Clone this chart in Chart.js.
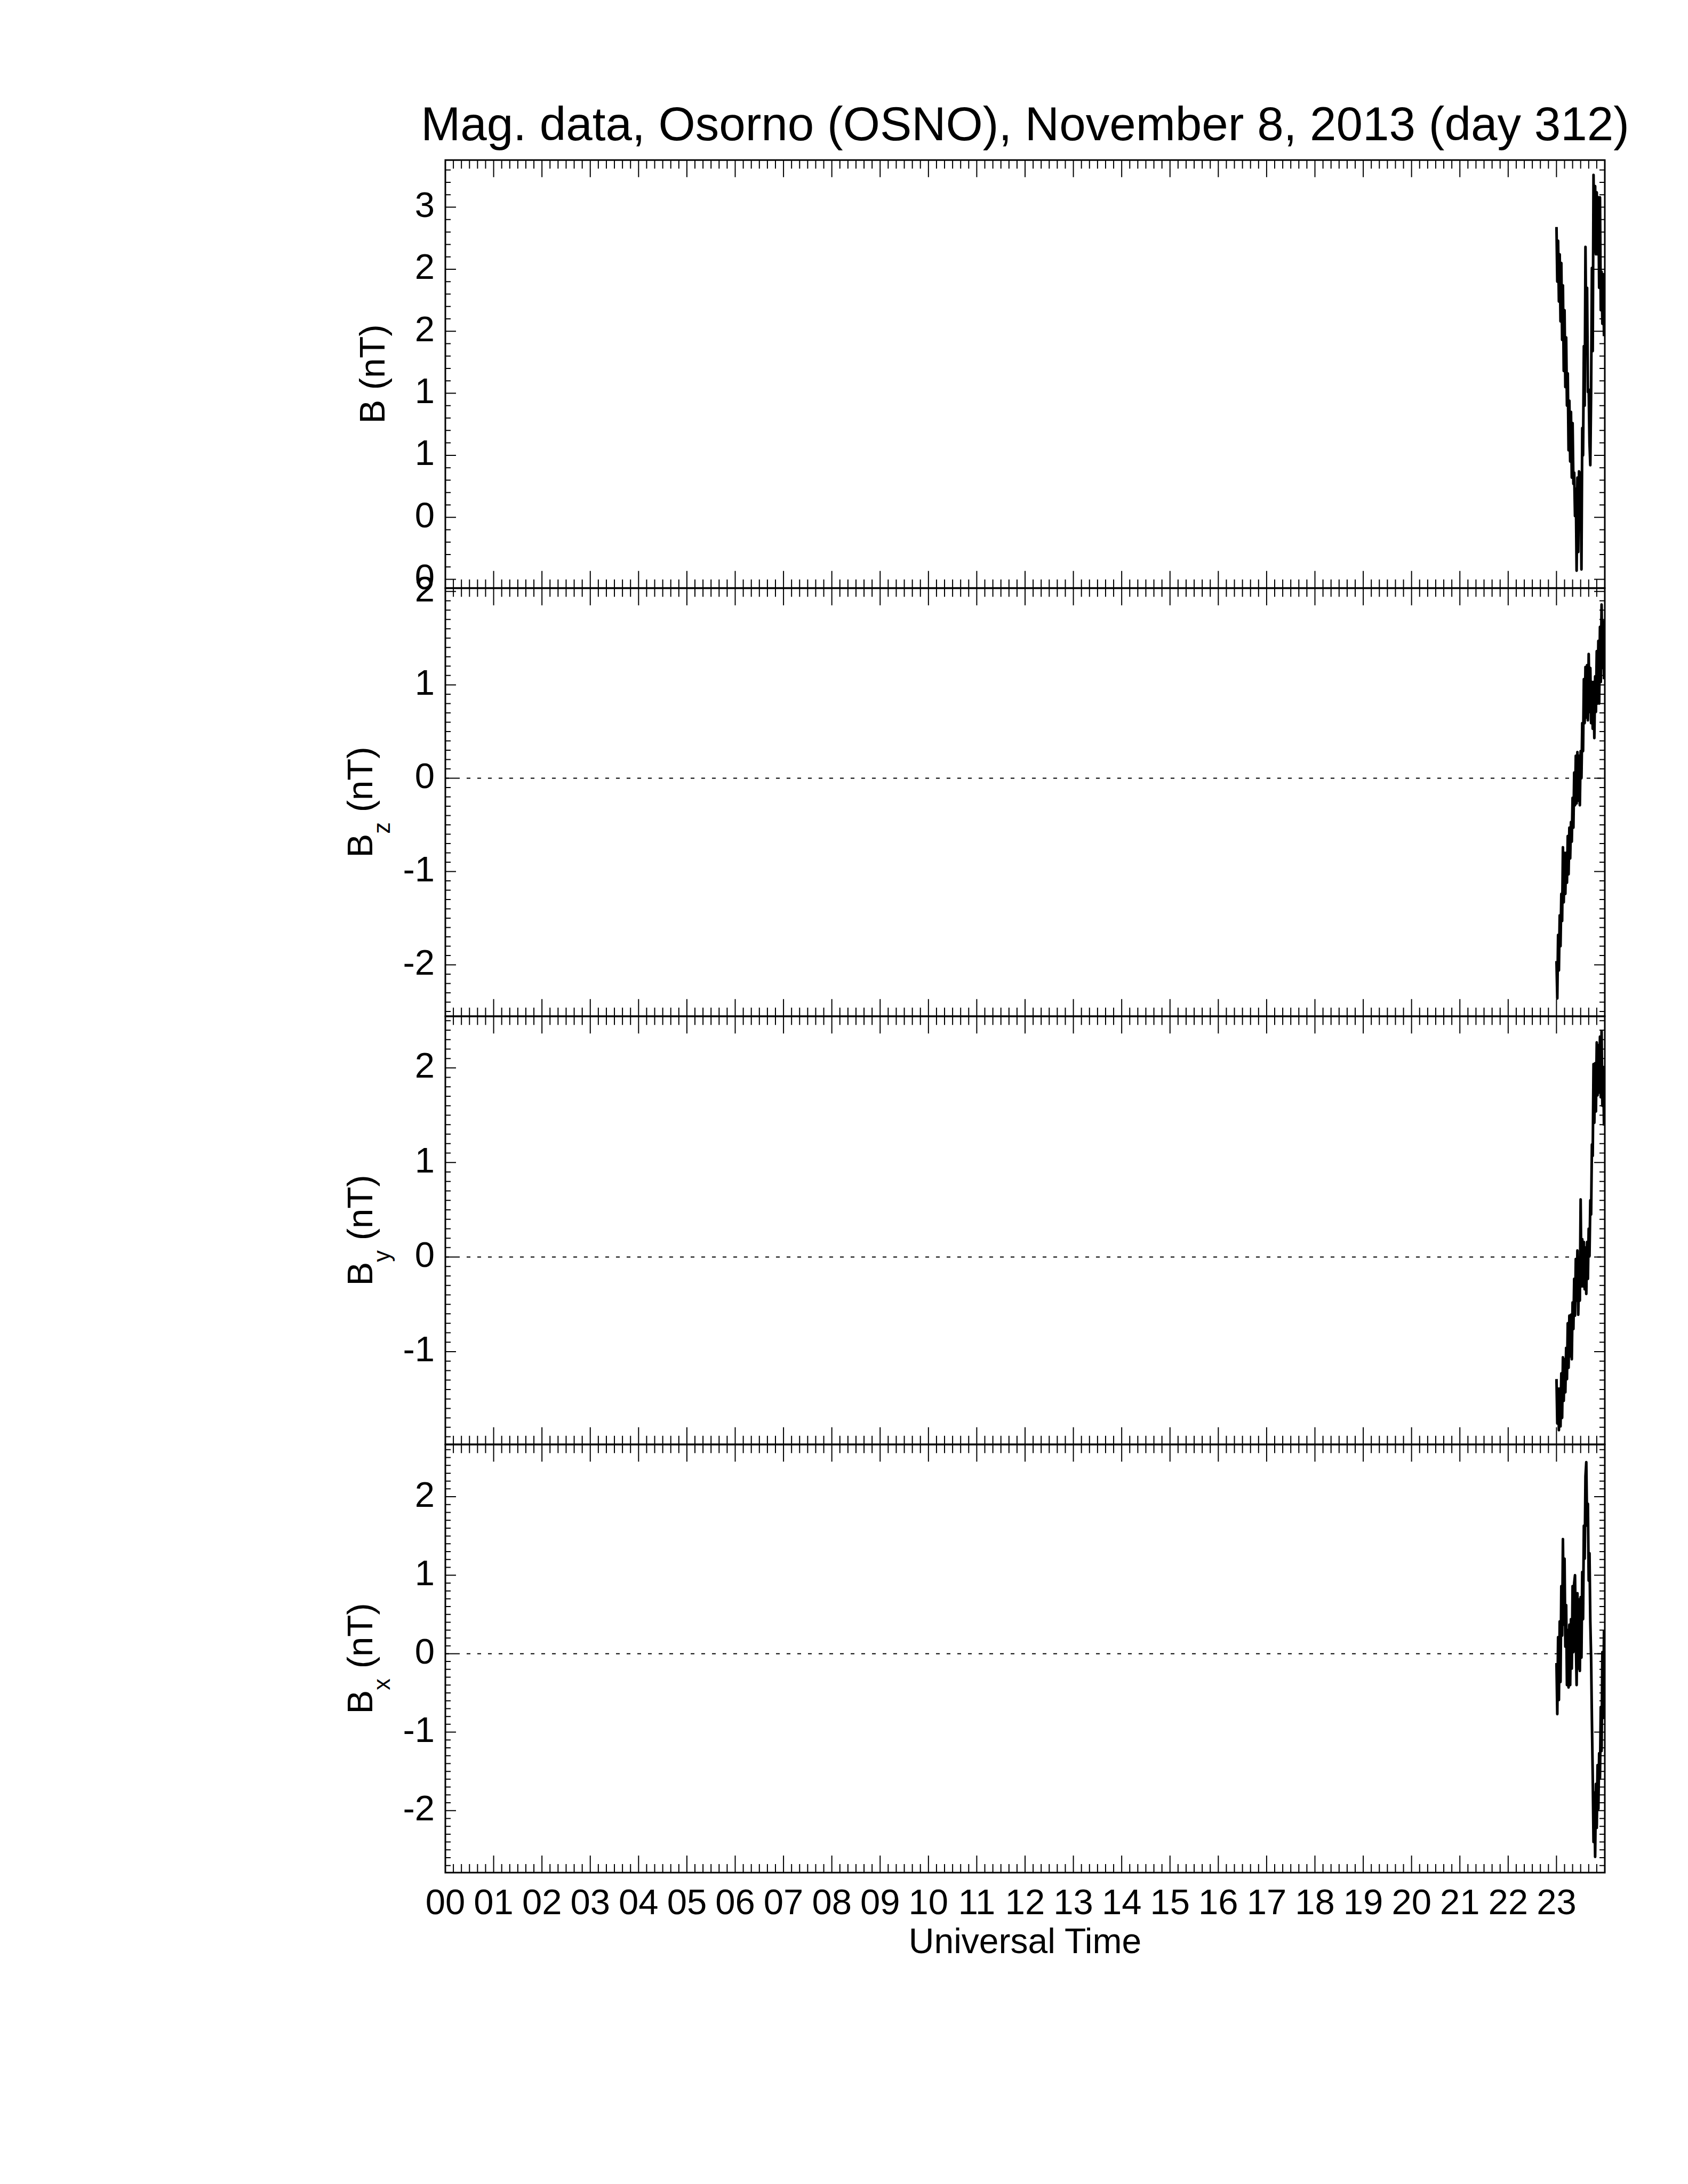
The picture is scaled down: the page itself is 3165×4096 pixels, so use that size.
<!DOCTYPE html>
<html>
<head>
<meta charset="utf-8">
<title>Mag. data, Osorno (OSNO), November 8, 2013</title>
<script src="https://cdn.jsdelivr.net/npm/chart.js@4.4.1/dist/chart.umd.min.js"></script>
<style>
    html, body { margin: 0; padding: 0; background: #fff; }
    body {
        width: 3165px; height: 4096px; position: relative; overflow: hidden;
        font-family: 'Liberation Sans', Arial, Helvetica, sans-serif; color: #000;
    }
    canvas { position: absolute; left: 0; }
    .label { position: absolute; white-space: nowrap; line-height: 1; text-align: center; }
    .ytitle sub { font-size: 0.65em; vertical-align: -33px; line-height: 0; }
</style>
</head>
<body>
<div class="label" id="mainTitle">Mag. data, Osorno (OSNO), November 8, 2013 (day 312)</div>
<div class="label ytitle" id="title0">B (nT)</div>
<div class="label ytitle" id="title1">B<sub>z</sub> (nT)</div>
<div class="label ytitle" id="title2">B<sub>y</sub> (nT)</div>
<div class="label ytitle" id="title3">B<sub>x</sub> (nT)</div>
<div class="label" id="xTitle">Universal Time</div>
<canvas id="panel0"></canvas>
<canvas id="panel1"></canvas>
<canvas id="panel2"></canvas>
<canvas id="panel3"></canvas>
<script>
// one sample per minute, starting 23:00 UT
const sampleStart = 23;
const sampleStep = 1 / 60;

const hourTicks = [0, 1, 2, 3, 4, 5, 6, 7, 8, 9, 10, 11, 12, 13, 14, 15, 16, 17, 18, 19, 20, 21, 22, 23, 24];
const hourLabels = ['00', '01', '02', '03', '04', '05', '06', '07', '08', '09', '10', '11',
                    '12', '13', '14', '15', '16', '17', '18', '19', '20', '21', '22', '23', ''];

const bTotal = [2.84, 2.40, 2.73, 2.24, 2.62, 2.08, 2.55, 1.93, 2.37, 1.68,
                2.17, 1.55, 1.95, 1.40, 1.66, 1.04, 1.44, 0.95, 1.35, 0.82,
                1.26, 0.77, 0.86, 0.51, 0.73, 0.07, 0.82, 0.22, 0.87, 0.51,
                0.86, 0.08, 1.22, 1.00, 1.88, 1.40, 2.68, 1.93, 2.35, 1.51,
                1.53, 1.10, 0.92, 1.51, 2.51, 1.84, 3.26, 2.64, 3.17, 2.62,
                3.12, 2.62, 3.08, 2.35, 3.08, 2.17, 2.48, 2.06, 2.46, 1.96];
const bz = [-1.96, -2.36, -1.68, -2.06, -1.47, -1.80, -1.24, -1.53, -0.74, -1.33,
            -0.80, -1.24, -0.80, -1.12, -0.62, -1.03, -0.53, -0.86, -0.47, -0.68,
            -0.21, -0.53, 0.06, -0.29, 0.24, -0.27, 0.28, -0.24, 0.24, -0.29,
            0.29, 0.00, 0.59, 0.29, 1.06, 0.59, 1.19, 0.65, 1.21, 0.62,
            1.33, 0.71, 1.18, 0.59, 1.03, 0.53, 1.03, 0.43, 1.09, 0.71,
            1.36, 0.80, 1.47, 0.80, 1.62, 1.03, 1.86, 1.18, 1.68, 1.06];
const by = [-1.29, -1.76, -1.39, -1.83, -1.39, -1.79, -1.23, -1.70, -1.06, -1.52,
            -1.08, -1.43, -0.96, -1.29, -0.70, -1.17, -0.62, -1.05, -0.61, -1.08,
            -0.48, -0.76, -0.23, -0.62, -0.02, -0.46, 0.07, -0.61, -0.20, -0.46,
            0.61, -0.31, 0.19, -0.31, 0.16, -0.34, 0.10, -0.39, 0.16, -0.23,
            0.30, 0.01, 0.60, 0.45, 1.19, 1.07, 2.04, 1.42, 2.05, 1.54,
            2.27, 1.71, 2.24, 1.74, 2.33, 1.69, 2.39, 1.60, 2.01, 1.39];
const bx = [-0.12, -0.77, 0.21, -0.59, 0.41, -0.36, 0.86, 0.23, 1.46, 0.37,
            1.21, 0.09, 0.62, -0.40, 0.30, -0.43, 0.37, -0.40, 0.44, -0.19,
            0.86, 0.02, 0.90, 1.00, 0.23, -0.40, 0.77, -0.19, 0.69, -0.22,
            0.72, -0.05, 1.04, 0.44, 1.63, 1.21, 2.26, 2.44, 1.63, 1.91,
            0.93, 1.28, 0.41, -0.05, -0.85, -1.55, -2.40, -1.77, -2.59, -1.66,
            -2.22, -1.42, -1.98, -1.27, -1.59, -0.68, -1.24, 0.02, -0.82, 0.30];

const bTicks = [0, 0.5, 1, 1.5, 2, 2.5, 3];
const bzTicks = [-2, -1, 0, 1, 2];
const byTicks = [-1, 0, 1, 2];
const bxTicks = [-2, -1, 0, 1, 2];

const bRange = [-0.07, 3.38];
const bzRange = [-2.55, 2.035];
const byRange = [-1.98, 2.545];
const bxRange = [-2.79, 2.665];

// page layout (px)
const PAGE_W = 3165;
const PLOT_LEFT = 835, PLOT_RIGHT = 3009, PLOT_TOP = 300, PANEL_H = 803;
const PAD = 60, X_AXIS_H = 200;
const FONT = "'Liberation Sans', Arial, Helvetica, sans-serif";
const TICK_FONT = 67;

const frameTicks = {
    id: 'frameTicks',
    afterDraw(chart, args, opts) {
        const { ctx, chartArea: a, scales: { x, y } } = chart;
        ctx.save();
        ctx.strokeStyle = '#000';
        ctx.lineWidth = 2;
        ctx.beginPath();
        for (let k = 0; k <= 24 * 6; k++) {
            const px = x.getPixelForValue(k / 6);
            const len = k % 6 === 0 ? 32 : 16;
            ctx.moveTo(px, a.bottom); ctx.lineTo(px, a.bottom - len);
            ctx.moveTo(px, a.top); ctx.lineTo(px, a.top + len);
        }
        for (let k = Math.ceil(y.min * 10); k <= Math.floor(y.max * 10); k++) {
            const v = k / 10;
            const major = opts.majors.some(m => Math.abs(m - v) < 1e-6);
            const len = major ? 20 : 10;
            const py = y.getPixelForValue(v);
            ctx.moveTo(a.left, py); ctx.lineTo(a.left + len, py);
            ctx.moveTo(a.right, py); ctx.lineTo(a.right - len, py);
        }
        ctx.stroke();
        ctx.lineWidth = 3;
        ctx.strokeRect(a.left, a.top, a.right - a.left, a.bottom - a.top);
        ctx.restore();
    }
};

function toPoints(values) {
    return values.map((v, i) => ({ x: sampleStart + i * sampleStep, y: v }));
}

function makePanel(index, values, range, ticks, withZero, showX) {
    const canvas = document.getElementById('panel' + index);
    const height = PAD + PANEL_H + (showX ? X_AXIS_H : PAD);
    canvas.width = PAGE_W;
    canvas.height = height;
    canvas.style.top = (PLOT_TOP + index * PANEL_H - PAD) + 'px';

    const datasets = [];
    if (withZero) {
        datasets.push({
            data: [{ x: 0, y: 0 }, { x: 24, y: 0 }],
            borderColor: '#000', borderWidth: 2, borderDash: [7, 13], pointRadius: 0
        });
    }
    datasets.push({
        data: toPoints(values),
        borderColor: '#000', borderWidth: 5, pointRadius: 0,
        borderJoinStyle: 'round', tension: 0
    });

    new Chart(canvas.getContext('2d'), {
        type: 'line',
        data: { datasets },
        options: {
            responsive: false,
            animation: false,
            events: [],
            layout: { padding: { left: 0, right: PAGE_W - PLOT_RIGHT, top: PAD, bottom: showX ? 0 : PAD } },
            plugins: {
                legend: { display: false },
                tooltip: { enabled: false },
                frameTicks: { majors: ticks }
            },
            scales: {
                x: {
                    type: 'linear', min: 0, max: 24,
                    display: showX,
                    grid: { display: false, drawTicks: false },
                    border: { display: false },
                    afterBuildTicks: s => { s.ticks = hourTicks.map(v => ({ value: v })); },
                    afterFit: s => { s.height = showX ? X_AXIS_H : 0; },
                    ticks: {
                        autoSkip: false, maxRotation: 0, minRotation: 0, padding: 19,
                        color: '#000', font: { family: FONT, size: TICK_FONT },
                        callback: (v, i) => hourLabels[i]
                    }
                },
                y: {
                    type: 'linear', min: range[0], max: range[1],
                    grid: { display: false, drawTicks: false },
                    border: { display: false },
                    afterBuildTicks: s => { s.ticks = ticks.map(v => ({ value: v })); },
                    afterFit: s => { s.width = PLOT_LEFT; },
                    ticks: {
                        padding: 20, color: '#000', font: { family: FONT, size: TICK_FONT },
                        callback: v => String(Math.trunc(v))
                    }
                }
            }
        },
        plugins: [frameTicks]
    });
}

function placeLabels() {
    const titleSize = 89;
    const t = document.getElementById('mainTitle');
    t.style.fontSize = titleSize + 'px';
    t.style.width = '3000px';
    t.style.left = ((PLOT_LEFT + PLOT_RIGHT) / 2 - 1500) + 'px';
    t.style.top = (263 - 0.8465 * titleSize) + 'px';

    const xs = 66;
    const xt = document.getElementById('xTitle');
    xt.style.fontSize = xs + 'px';
    xt.style.width = '1000px';
    xt.style.left = ((PLOT_LEFT + PLOT_RIGHT) / 2 - 500) + 'px';
    xt.style.top = (3663 - 0.8465 * xs) + 'px';

    // baseline x of the rotated titles
    const baselines = [720, 697, 697, 697];
    const ys = 67;
    const w = 700;
    baselines.forEach((bx, i) => {
        const el = document.getElementById('title' + i);
        const cx = bx - 0.3465 * ys;
        const cy = PLOT_TOP + (i + 0.5) * PANEL_H;
        el.style.fontSize = ys + 'px';
        el.style.width = w + 'px';
        el.style.height = ys + 'px';
        el.style.left = (cx - w / 2) + 'px';
        el.style.top = (cy - ys / 2) + 'px';
        el.style.transform = 'rotate(-90deg)';
    });
}

placeLabels();
makePanel(0, bTotal, bRange, bTicks, false, false);
makePanel(1, bz, bzRange, bzTicks, true, false);
makePanel(2, by, byRange, byTicks, true, false);
makePanel(3, bx, bxRange, bxTicks, true, true);
</script>
</body>
</html>
